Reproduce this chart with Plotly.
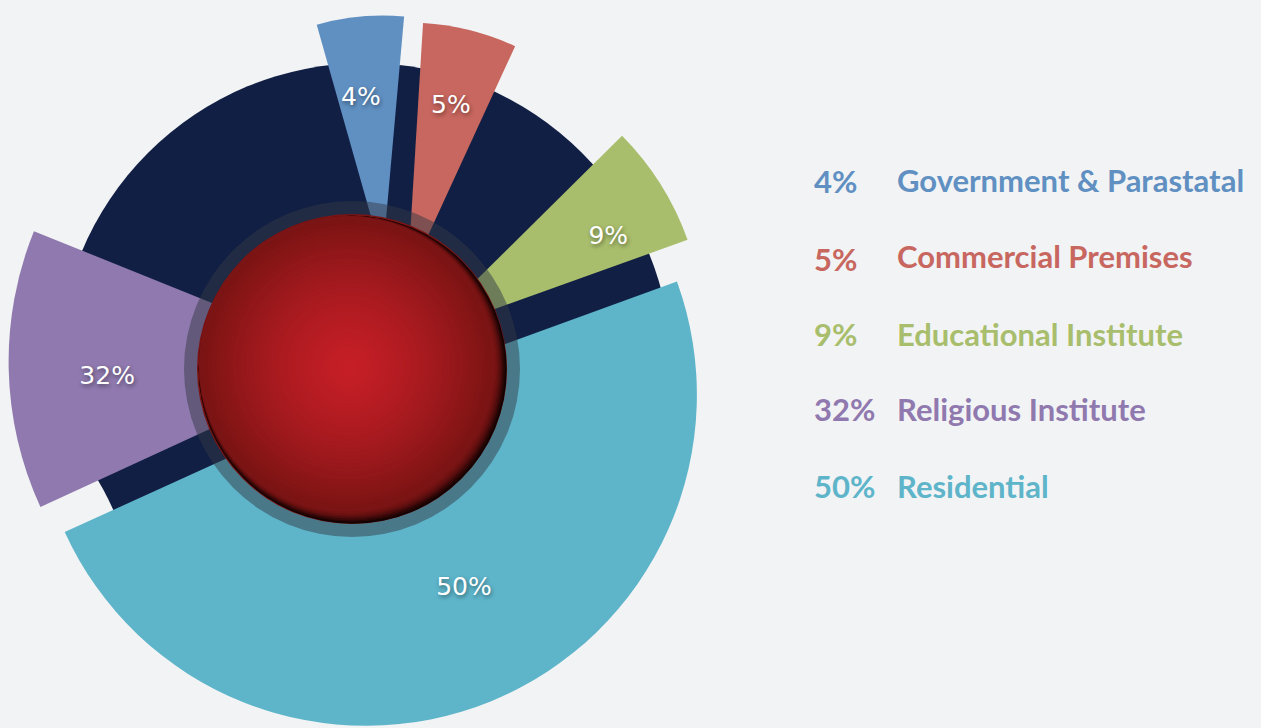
import plotly.graph_objects as go
import numpy as np

W, H = 1261, 728

# ---- data ----
categories = ["Government & Parastatal", "Commercial Premises", "Educational Institute",
              "Religious Institute", "Residential"]
shares = [4, 5, 9, 32, 50]
share_labels = [f"{s}%" for s in shares]
colors = ["#6090c2", "#c8675f", "#a8be6c", "#8f79ae", "#5eb5ca"]

# ---- wedge geometry (px, degrees clockwise from north) ----
wedge_cx = [382.6, 407.3, 420.2, 356.6, 365.9]
wedge_cy = [257.6, 280.6, 335.6, 361.5, 394.8]
wedge_r = [242, 258, 284, 348, 331]
wedge_t0 = [-15.8, 3.5, 45.3, 245.3, 70.0]
wedge_t1 = [5.1, 24.7, 70.3, 292.0, 245.5]
label_r = [160, 179, 212, 250, 217.6]
label_t = [-7.8, 14.1, 62.5, 266.2, 153.2]

BG = "#f2f3f5"
NAVY = "#111f44"

fig = go.Figure()
layout_polars = {}
for i in range(len(categories)):
    pid = "polar" if i == 0 else f"polar{i + 1}"
    cx, cy = wedge_cx[i], wedge_cy[i]
    h = min(cx, W - cx, cy, H - cy) - 0.2
    t0, t1 = wedge_t0[i], wedge_t1[i]
    fig.add_trace(go.Barpolar(
        r=[wedge_r[i]], theta=[(t0 + t1) / 2], width=[t1 - t0],
        marker=dict(color=colors[i], line=dict(width=0)),
        name=categories[i], subplot=pid, hoverinfo="skip", showlegend=False))
    fig.add_trace(go.Scatterpolar(
        r=[label_r[i]], theta=[label_t[i]], mode="text", text=[share_labels[i]],
        textfont=dict(family="DejaVu Sans", size=25, color="white",
                      shadow="1px 2px 4px rgba(0,0,0,0.45)"),
        cliponaxis=False, subplot=pid, hoverinfo="skip", showlegend=False))
    layout_polars[pid] = dict(
        domain=dict(x=[(cx - h) / W, (cx + h) / W], y=[1 - (cy + h) / H, 1 - (cy - h) / H]),
        bgcolor="rgba(0,0,0,0)",
        radialaxis=dict(range=[0, h], visible=False),
        angularaxis=dict(visible=False, rotation=90, direction="clockwise"),
    )

shapes = []


def circ(cx, cy, r, color, layer="above"):
    return dict(type="circle", xref="paper", yref="paper",
                x0=(cx - r) / W, x1=(cx + r) / W,
                y0=1 - (cy + r) / H, y1=1 - (cy - r) / H,
                fillcolor=color, line=dict(width=0), layer=layer)


# navy backdrop disc (trimmed at its lower-left by a background-coloured disc)
shapes.append(circ(365, 370, 307, NAVY, layer="below"))
shapes.append(circ(-200, 652, 344, BG, layer="below"))

# translucent ring around the sphere
SC = np.array([352.0, 369.0])
shapes.append(circ(SC[0], SC[1], 168, "rgba(52,58,70,0.49)"))

# sphere base (edge colour)
R0 = 155
shapes.append(circ(SC[0], SC[1], R0, "rgb(123,20,20)"))
# dark crescent at lower right, hidden toward upper left
ang = np.deg2rad(-45)
u = np.array([np.sin(ang), -np.cos(ang)])
shadow_cols = [(20, 2, 2), (38, 5, 5), (58, 8, 8), (78, 12, 12), (95, 15, 15),
               (108, 17, 17), (117, 19, 19), (123, 20, 20)]
K = len(shadow_cols)
e_top = np.linspace(153.0, 155.0, K)   # extent toward upper-left
b_bot = np.linspace(155.0, 141.0, K)   # extent toward lower-right
for k in range(K):
    r = (e_top[k] + b_bot[k]) / 2
    a = (e_top[k] - b_bot[k]) / 2
    c = SC + a * u
    shapes.append(circ(c[0], c[1], r, "rgb(%d,%d,%d)" % shadow_cols[k]))
r_last = (e_top[-1] + b_bot[-1]) / 2
a_last = (e_top[-1] - b_bot[-1]) / 2
inner_c = SC + a_last * u
edge = np.array([123, 20, 20])
center = np.array([198, 31, 39])
N = 36
for k in range(1, N):
    t = 1 - k / N
    r = r_last * t
    col = center + (edge - center) * (t ** 1.4)
    cc = inner_c + np.array([3.0, 3.0]) * (1 - t)
    shapes.append(circ(cc[0], cc[1], r, "rgb(%d,%d,%d)" % tuple(col.astype(int))))

# legend (as text)
annotations = []
pct_y = [180.7, 258.6, 334, 408.5, 486]
txt_y = [180, 256, 334, 408.5, 486]
for i in range(len(categories)):
    f = dict(family="Lato", size=31, color=colors[i], weight="bold")
    annotations.append(dict(xref="paper", yref="paper", x=812 / W, y=1 - pct_y[i] / H,
                            text=share_labels[i], showarrow=False, xanchor="left",
                            yanchor="middle", font=f))
    annotations.append(dict(xref="paper", yref="paper", x=895 / W, y=1 - txt_y[i] / H,
                            text=categories[i], showarrow=False, xanchor="left",
                            yanchor="middle", font=f))

fig.update_layout(
    width=W, height=H, autosize=False,
    margin=dict(l=0, r=0, t=0, b=0),
    paper_bgcolor=BG, plot_bgcolor=BG,
    showlegend=False,
    shapes=shapes, annotations=annotations,
    **layout_polars,
)

fig.write_html(
    "out.html",
    config={"displayModeBar": False},
    post_script="document.body.style.margin='0';document.body.style.background='%s';"
                "document.body.style.overflow='hidden';" % BG,
)
